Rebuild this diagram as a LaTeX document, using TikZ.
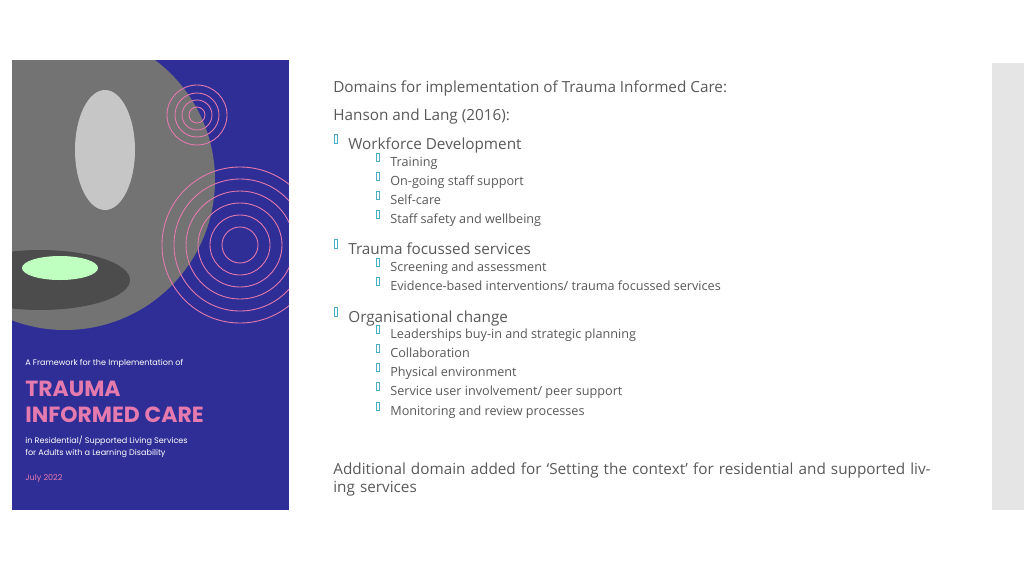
\documentclass[tikz,border=0pt]{standalone}
\usepackage{fontspec}
\setmainfont{Open Sans}
\newfontfamily\coverfont{Poppins}
\definecolor{coverblue}{HTML}{2F2E96}
\definecolor{coverpink}{HTML}{E57AAE}
\definecolor{bodygray}{HTML}{595959}
\definecolor{tickteal}{HTML}{4BACC6}
\usetikzlibrary{positioning}

\tikzset{
  head/.style={anchor=base west, inner sep=0pt, text=bodygray, font=\fontsize{8.7}{10.5}\selectfont},
  sub/.style={anchor=base west, inner sep=0pt, text=bodygray, font=\fontsize{7.2}{9}\selectfont},
  tick/.style={draw=tickteal, line width=0.35pt, inner sep=0pt, minimum width=2pt, minimum height=5pt},
  ring/.style={draw=coverpink, line width=0.5pt},
  cover/.style={anchor=base west, inner sep=0pt, text=white, font=\coverfont\fontsize{4.6}{6}\selectfont}
}

\begin{document}
\begin{tikzpicture}[x=0.02cm, y=-0.02cm]
\useasboundingbox (0,0) rectangle (1024,575);
\fill[white] (0,0) rectangle (1024,575);
\fill[gray!20] (992,63) rectangle (1024,510);

% cover
\fill[coverblue] (12,60) rectangle (289,510);
\begin{scope}
\clip (12,60) rectangle (289,510);
\fill[black!55] (65,180) circle (150);
\fill[black!70] (40,280) ellipse (90 and 30);
\fill[gray!45!white] (105,150) ellipse (30 and 60);
\fill[green!25!white] (60,268) ellipse (38 and 12);
\foreach \r in {8,15,22,30} \draw[ring] (197,115) circle (\r);
\foreach \r in {18,30,42,54,66,78} \draw[ring] (240,245) circle (\r);
\end{scope}

\node[cover] (subtitle) at (25,365) {A Framework for the Implementation of};
\node[cover, text=coverpink, font=\coverfont\bfseries\fontsize{12.5}{14}\selectfont] (title1) at (25,396) {TRAUMA};
\node[cover, text=coverpink, font=\coverfont\bfseries\fontsize{12.5}{14}\selectfont] (title2) at (25,422) {INFORMED CARE};
\node[cover] (scope1) at (25,443) {in Residential/ Supported Living Services};
\node[cover] (scope2) at (25,455) {for Adults with a Learning Disability};
\node[cover, text=coverpink] (date) at (25,480) {July 2022};

% text
\node[head] (intro) at (333,92) {Domains for implementation of Trauma Informed Care:};
\node[head] (source) at (333,120) {Hanson and Lang (2016):};

\node[head] (workforce) at (348,149) {Workforce Development};
\node[sub] (training) at (390,166) {Training};
\node[sub] (support) at (390,185) {On-going staff support};
\node[sub] (selfcare) at (390,204) {Self-care};
\node[sub] (safety) at (390,223) {Staff safety and wellbeing};

\node[head] (focussed) at (348,254) {Trauma focussed services};
\node[sub] (screening) at (390,271) {Screening and assessment};
\node[sub] (evidence) at (390,290) {Evidence-based interventions/ trauma focussed services};

\node[head] (organisation) at (348,322) {Organisational change};
\node[sub] (leadership) at (390,338) {Leaderships buy-in and strategic planning};
\node[sub] (collab) at (390,357) {Collaboration};
\node[sub] (physical) at (390,376) {Physical environment};
\node[sub] (involve) at (390,395) {Service user involvement/ peer support};
\node[sub] (monitor) at (390,415) {Monitoring and review processes};

\node[head, anchor=north west, text width=12.1cm, align=left] (additional) at (333,462)
  {Additional domain added for ‘Setting the context’ for residential and supported living services};

% bullets
\foreach \n in {workforce,focussed,organisation}
  \node[tick] at ([xshift=-7pt, yshift=6pt]\n.base west) {};
\foreach \n in {training,support,selfcare,safety,screening,evidence,leadership,collab,physical,involve,monitor}
  \node[tick] at ([xshift=-7pt, yshift=5pt]\n.base west) {};
\end{tikzpicture}
\end{document}
